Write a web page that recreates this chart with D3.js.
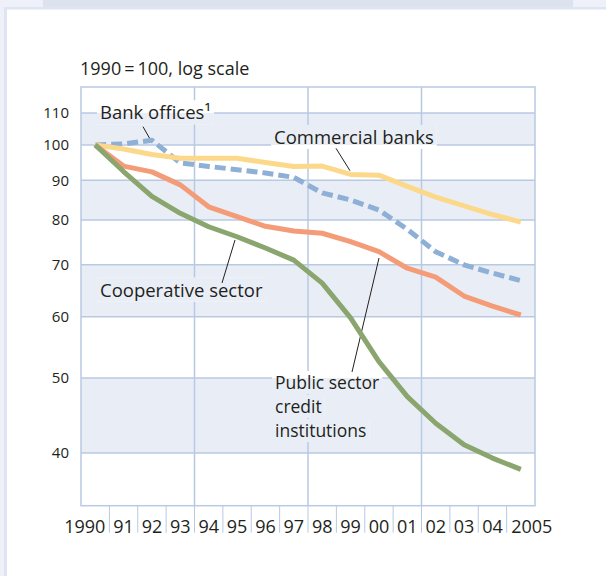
<!DOCTYPE html>
<html>
<head>
<meta charset="utf-8">
<script src="https://cdn.jsdelivr.net/npm/d3@7"></script>
<style>
  html, body { margin: 0; padding: 0; background: #eef1f9; }
  svg { display: block; }
  text { font-family: "Open Sans", sans-serif; fill: #231f20; }
</style>
</head>
<body>
<svg id="chart"></svg>
<script>
// years on the x axis and their printed labels
const years = [1990, 1991, 1992, 1993, 1994, 1995, 1996, 1997, 1998, 1999, 2000, 2001, 2002, 2003, 2004, 2005];
const yearLabels = ["1990", "91", "92", "93", "94", "95", "96", "97", "98", "99", "00", "01", "02", "03", "04", "2005"];

// index values, 1990 = 100
const commercialBanks = [100, 98.8, 97.2, 96.1, 96.1, 96.1, 94.9, 93.8, 93.9, 91.6, 91.4, 88.4, 85.6, 83.4, 81.3, 79.5];
const bankOffices     = [100, 100.3, 101.4, 94.8, 93.8, 92.9, 92.0, 90.8, 86.7, 84.9, 82.4, 77.8, 72.8, 70.0, 68.3, 66.8];
const publicSector    = [100, 93.9, 92.3, 88.8, 83.2, 80.8, 78.5, 77.4, 76.9, 75.0, 72.8, 69.3, 67.5, 63.8, 61.9, 60.3];
const cooperative     = [100, 92.4, 85.8, 81.6, 78.4, 76.1, 73.6, 71.0, 66.3, 59.8, 52.5, 47.3, 43.7, 41.0, 39.4, 38.1];

const yTicks = [40, 50, 60, 70, 80, 90, 100, 110];
const shadedBands = [[100, 110], [80, 90], [60, 70], [40, 50]];
const majorYears = [1994, 1998, 2002];

const W = 606, H = 576;
const svg = d3.select("#chart").attr("width", W).attr("height", H);

// page frame
svg.append("rect").attr("x", 0).attr("y", 0).attr("width", W).attr("height", H).attr("fill", "#eef1f9");
svg.append("rect").attr("x", 43).attr("y", 0).attr("width", 530).attr("height", 8).attr("fill", "#dce3ef");
svg.append("rect").attr("x", 4).attr("y", 7).attr("width", W - 4).attr("height", H - 7).attr("fill", "#dfe5f0");
svg.append("rect").attr("x", 7).attr("y", 9.5).attr("width", W - 7).attr("height", H - 9.5).attr("fill", "#fff");

const plot = { left: 81, right: 535, top: 87, bottom: 505.7 };

const x = d3.scaleBand().domain(years).range([plot.left, plot.right]).padding(0);
const y = d3.scaleLog().domain([34.2, 118.8]).range([plot.bottom, plot.top]);
const cx = d => x(d) + x.bandwidth() / 2;

const shade = "#e9eef6", grid = "#b9c9e2";

function drawBands(g) {
  g.append("rect")
    .attr("x", plot.left).attr("y", plot.top)
    .attr("width", plot.right - plot.left).attr("height", plot.bottom - plot.top)
    .attr("fill", "#fff");
  g.selectAll(".band").data(shadedBands).enter().append("rect")
    .attr("x", plot.left)
    .attr("y", d => y(d[1]))
    .attr("width", plot.right - plot.left)
    .attr("height", d => y(d[0]) - y(d[1]))
    .attr("fill", shade);
}

drawBands(svg.append("g"));

// grid
const gridG = svg.append("g").attr("stroke", grid).attr("stroke-width", 1.5);
gridG.selectAll(".hy").data(yTicks).enter().append("line")
  .attr("x1", plot.left).attr("x2", plot.right)
  .attr("y1", d => y(d)).attr("y2", d => y(d));
gridG.selectAll(".vx").data(majorYears).enter().append("line")
  .attr("x1", d => x(d)).attr("x2", d => x(d))
  .attr("y1", plot.top).attr("y2", plot.bottom);
gridG.append("rect")
  .attr("x", plot.left).attr("y", plot.top)
  .attr("width", plot.right - plot.left).attr("height", plot.bottom - plot.top)
  .attr("fill", "none");

// x tick separators below the axis
svg.append("g").attr("stroke", grid).attr("stroke-width", 1)
  .selectAll("line").data(years.slice(1)).enter().append("line")
  .attr("x1", d => x(d)).attr("x2", d => x(d))
  .attr("y1", plot.bottom).attr("y2", plot.bottom + 27);

// x labels
svg.append("g").selectAll("text").data(years).enter().append("text")
  .attr("x", (d, i) => i === 0 ? x(d) + x.bandwidth() - 4 : i === years.length - 1 ? x(d) + 4.5 : cx(d))
  .attr("y", 533)
  .attr("text-anchor", (d, i) => i === 0 ? "end" : i === years.length - 1 ? "start" : "middle")
  .style("font-size", "18px")
  .text((d, i) => yearLabels[i]);

// y labels
svg.append("g").selectAll("text").data(yTicks).enter().append("text")
  .attr("x", 69)
  .attr("y", d => y(d))
  .attr("dy", "0.36em")
  .attr("text-anchor", "end")
  .style("font-size", "15px")
  .text(d => d);

svg.append("text").attr("x", 80).attr("y", 75).style("font-size", "18px")
  .text("1990\u2009=\u2009100, log scale");

// series labels (text placed first so the gaps can be sized from them)
const labels = [
  { lines: ["Bank offices\u00b9"], x: 100, y: 119.3, size: 18.5 },
  { lines: ["Commercial banks"], x: 274, y: 144, size: 18.5 },
  { lines: ["Cooperative sector"], x: 100, y: 296.7, size: 18.5 },
  { lines: ["Public sector", "credit", "institutions"], x: 275, y: 389, size: 17.5 }
];

const defs = svg.append("defs");
const clip = defs.append("clipPath").attr("id", "gaps");
const gapG = svg.append("g").attr("clip-path", "url(#gaps)");
const lineG = svg.append("g");
const labelG = svg.append("g");

labels.forEach(l => {
  const step = l.size * 1.37;
  l.lines.forEach((s, i) => {
    const t = labelG.append("text")
      .attr("x", l.x).attr("y", l.y + i * step)
      .style("font-size", l.size + "px")
      .text(s);
    const b = t.node().getBBox();
    clip.append("rect").attr("x", b.x - 3).attr("y", b.y + 1).attr("width", b.width + 6).attr("height", b.height - 1);
  });
});
drawBands(gapG);

// leader lines
const leaders = [
  [[143, 126.7], [150, 139]],
  [[336, 148.3], [350, 170.7]],
  [[235, 240], [222, 283]],
  [[379, 258], [352, 372]]
];
lineG.append("g").attr("stroke", "#231f20").attr("stroke-width", 1)
  .selectAll("line").data(leaders).enter().append("line")
  .attr("x1", d => d[0][0]).attr("y1", d => d[0][1])
  .attr("x2", d => d[1][0]).attr("y2", d => d[1][1]);

const line = d3.line().x((d, i) => cx(years[i])).y(d => y(d));

const series = [
  { values: bankOffices, color: "#8eb0d6", dash: "11,5" },
  { values: commercialBanks, color: "#fcd98a" },
  { values: publicSector, color: "#f49c78" },
  { values: cooperative, color: "#8aa66e" }
];
lineG.selectAll("path.series").data(series).enter().append("path")
  .attr("class", "series")
  .attr("d", d => line(d.values))
  .attr("fill", "none")
  .attr("stroke", d => d.color)
  .attr("stroke-width", 5)
  .attr("stroke-dasharray", d => d.dash || null)
  .attr("stroke-linejoin", "round");
</script>
</body>
</html>
